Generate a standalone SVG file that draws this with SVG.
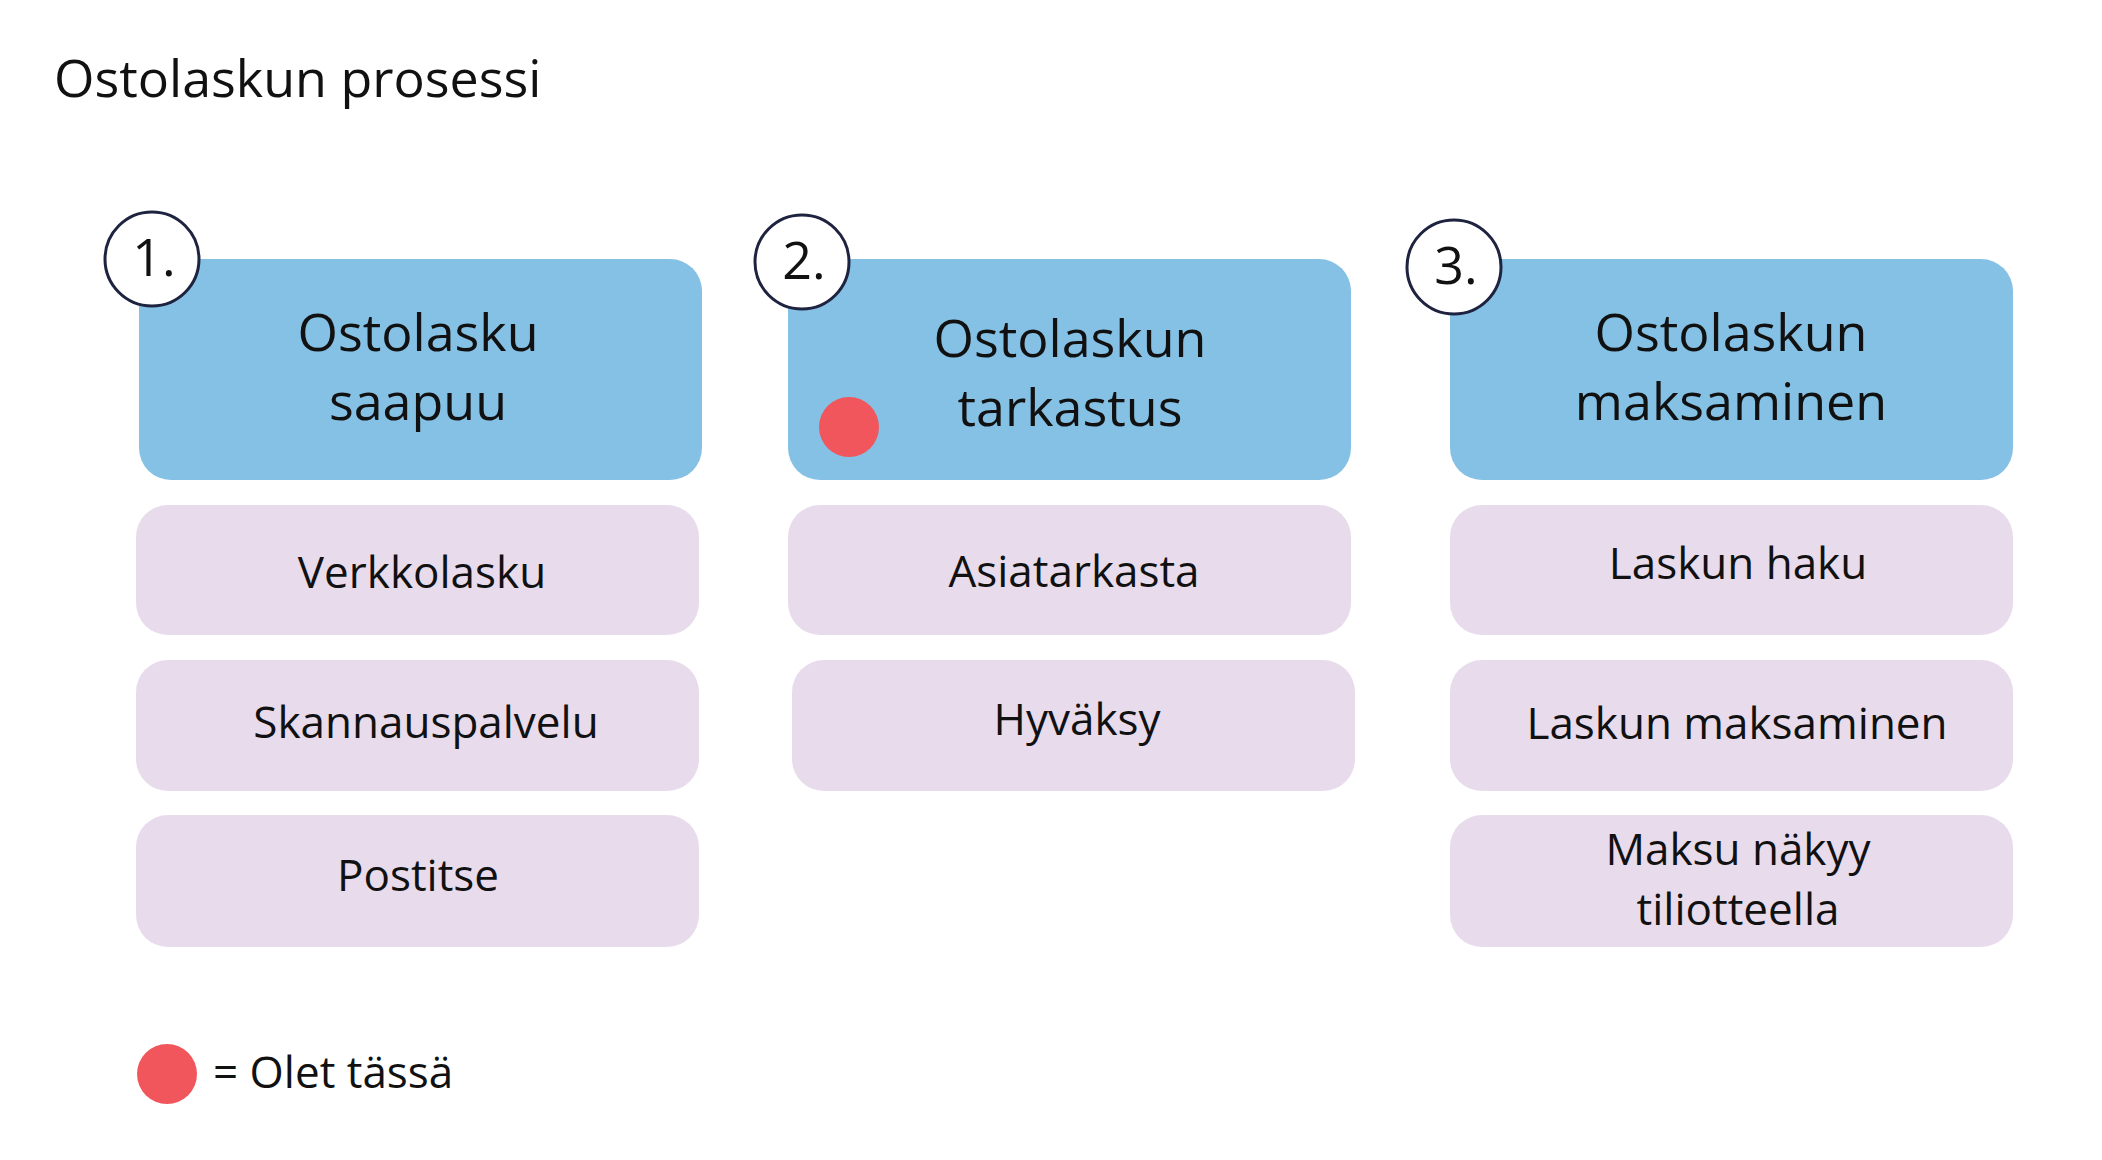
<svg xmlns="http://www.w3.org/2000/svg" width="2102" height="1160" viewBox="0 0 2102 1160">
<style>
text{font-family:"Open Sans","Liberation Sans",sans-serif;fill:#111;text-anchor:middle}
.h{fill:#85c1e5}
.p{fill:#e8dcec}
.num{fill:#fff;stroke:#1e2340;stroke-width:3}
.t{font-size:52px}
.s{font-size:44px}
.red{fill:#f0565b}
</style>
<rect width="2102" height="1160" fill="#fff"/>
<text x="54" y="97" style="font-size:52px;text-anchor:start">Ostolaskun prosessi</text>
<g id="step1">
<rect class="h" x="139" y="259" width="563" height="221" rx="32"/>
<circle class="num" cx="152" cy="259" r="47"/>
<text x="154" y="276" class="t">1.</text>
<text x="418" y="351" class="t">Ostolasku</text>
<text x="418" y="420" class="t">saapuu</text>
</g>
<g id="step2">
<rect class="h" x="788" y="259" width="563" height="221" rx="32"/>
<circle class="num" cx="802" cy="262" r="47"/>
<text x="804" y="279" class="t">2.</text>
<text x="1070" y="357" class="t">Ostolaskun</text>
<text x="1070" y="426" class="t">tarkastus</text>
<circle class="red" cx="849" cy="427" r="30"/>
</g>
<g id="step3">
<rect class="h" x="1450" y="259" width="563" height="221" rx="32"/>
<circle class="num" cx="1454" cy="267" r="47"/>
<text x="1456" y="284" class="t">3.</text>
<text x="1731" y="351" class="t">Ostolaskun</text>
<text x="1731" y="420" class="t">maksaminen</text>
</g>
<g id="verkkolasku"><rect class="p" x="136" y="505" width="563" height="130" rx="32"/><text x="422" y="588" class="s">Verkkolasku</text></g>
<g id="skannauspalvelu"><rect class="p" x="136" y="660" width="563" height="131" rx="32"/><text x="426" y="738" class="s">Skannauspalvelu</text></g>
<g id="postitse"><rect class="p" x="136" y="815" width="563" height="132" rx="32"/><text x="418" y="891" class="s">Postitse</text></g>
<g id="asiatarkasta"><rect class="p" x="788" y="505" width="563" height="130" rx="32"/><text x="1074" y="587" class="s">Asiatarkasta</text></g>
<g id="hyvaksy"><rect class="p" x="792" y="660" width="563" height="131" rx="32"/><text x="1077" y="735" class="s">Hyväksy</text></g>
<g id="laskunhaku"><rect class="p" x="1450" y="505" width="563" height="130" rx="32"/><text x="1738" y="579" class="s">Laskun haku</text></g>
<g id="laskunmaksaminen"><rect class="p" x="1450" y="660" width="563" height="131" rx="32"/><text x="1737" y="739" class="s">Laskun maksaminen</text></g>
<g id="maksunakyy"><rect class="p" x="1450" y="815" width="563" height="132" rx="32"/><text x="1738" y="865" class="s">Maksu näkyy</text><text x="1738" y="925" class="s">tiliotteella</text></g>
<g id="legend"><circle class="red" cx="167" cy="1074" r="30"/><text x="213" y="1088" class="s" style="text-anchor:start">= Olet tässä</text></g>
<g id="connectors"/>
</svg>
